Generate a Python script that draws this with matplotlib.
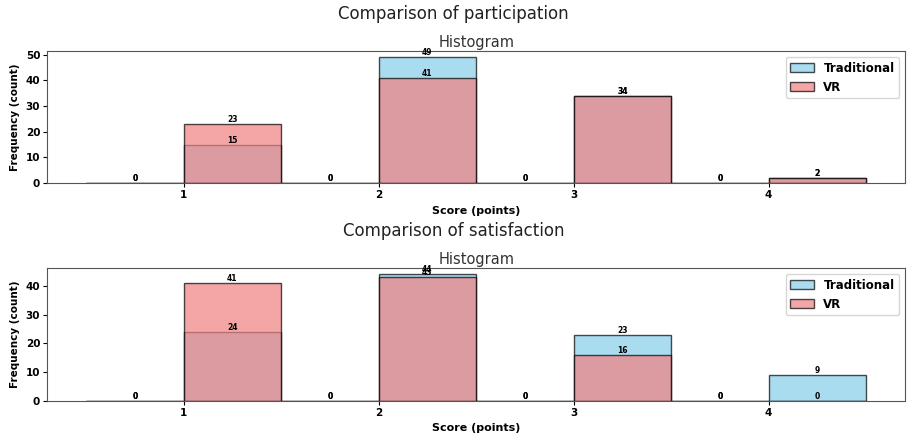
import numpy as np
import matplotlib
matplotlib.use("Agg")
import matplotlib.pyplot as plt
from matplotlib.ticker import MultipleLocator

# bordes de los bins (puntuaciones 1..4, ancho 0.5)
bin_edges = np.arange(0.5, 4.51, 0.5)

# conteos por bin
part_trad = [0, 15, 0, 49, 0, 34, 0, 2]
part_vr = [0, 23, 0, 41, 0, 34, 0, 2]
sat_trad = [0, 24, 0, 44, 0, 23, 0, 9]
sat_vr = [0, 41, 0, 43, 0, 16, 0, 0]

series_names = ["Traditional", "VR"]
panel_titles = ["Comparison of participation", "Comparison of satisfaction"]
xticks = [1, 2, 3, 4]

fig = plt.figure(figsize=(9.07, 4.33), dpi=100)
ax1 = fig.add_axes([0.052, 0.577, 0.946, 0.305])
ax2 = fig.add_axes([0.052, 0.074, 0.946, 0.307])


def draw_hist(ax, trad, vr):
    centers = (bin_edges[:-1] + bin_edges[1:]) / 2
    colors = ["skyblue", "lightcoral"]
    for counts, name, col in zip([trad, vr], series_names, colors):
        n, bins, patches = ax.hist(centers, bins=bin_edges, weights=counts,
                                   color=col, alpha=0.7, edgecolor=(0, 0, 0, 0.6),
                                   label=name)
        for c, v in zip(centers, n):
            ax.text(c, v, str(int(v)), ha="center", va="bottom",
                    fontsize=5.5, fontweight="bold")
    ax.set_title("Histogram", fontsize=10.5, color="#333333", pad=3)
    ax.set_xlabel("Score (points)", fontsize=8, fontweight="bold")
    ax.set_ylabel("Frequency (count)", fontsize=7.5, fontweight="bold")
    ax.set_xticks(xticks)
    ax.yaxis.set_major_locator(MultipleLocator(10))
    for lbl in ax.get_xticklabels() + ax.get_yticklabels():
        lbl.set_fontsize(7.5)
        lbl.set_fontweight("bold")
    ax.tick_params(length=3, pad=2)
    for s in ax.spines.values():
        s.set_color("#555555")
    ax.legend(prop={"size": 8.5, "weight": "bold"}, loc="upper right")


draw_hist(ax1, part_trad, part_vr)
draw_hist(ax2, sat_trad, sat_vr)

fig.text(0.5, 0.968, panel_titles[0], ha="center", va="center", fontsize=12, color="#222222")
fig.text(0.5, 0.467, panel_titles[1], ha="center", va="center", fontsize=12, color="#222222")

fig.savefig("out.png", dpi=100)
